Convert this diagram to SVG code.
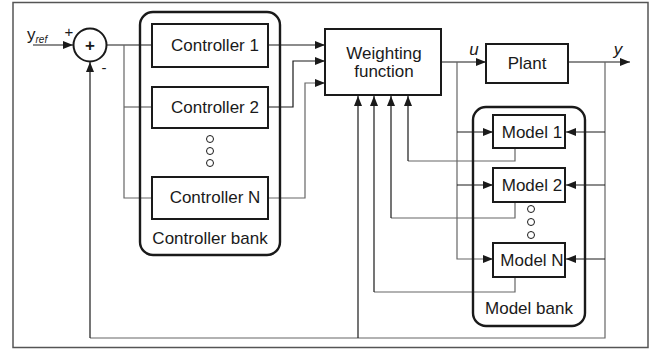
<svg xmlns="http://www.w3.org/2000/svg" width="654" height="350" viewBox="0 0 654 350">
<style>
.box{fill:#fff;stroke:#1a1a1a;stroke-width:2}
.bank{fill:none;stroke:#1a1a1a;stroke-width:2.4}
.ln{fill:none;stroke:#1a1a1a;stroke-width:1.2}
.gl{fill:none;stroke:#666;stroke-width:1.2}
.t{font-family:"Liberation Sans",Arial,sans-serif;font-size:17px;fill:#1a1a1a;text-anchor:middle}
.dot{fill:#fff;stroke:#1a1a1a;stroke-width:1}
</style>
<defs>
<marker id="ar" viewBox="0 0 10 8" refX="10" refY="4" markerWidth="10" markerHeight="8" markerUnits="userSpaceOnUse" orient="auto">
<path d="M0,0 L10,4 L0,8 z" fill="#1a1a1a"/>
</marker>
</defs>
<rect x="13" y="2.5" width="635" height="345" fill="#fff" stroke="#555" stroke-width="1.5"/>

<g id="connectors">
<line class="ln" x1="33" y1="45" x2="73" y2="45" marker-end="url(#ar)"/>
<line class="ln" x1="106" y1="45" x2="152" y2="45"/>
<polyline class="gl" points="124,45 124,198 152,198"/>
<line class="gl" x1="124" y1="107" x2="152" y2="107"/>
<line class="ln" x1="268" y1="45" x2="325" y2="45" marker-end="url(#ar)"/>
<polyline class="ln" points="268,107 293,107 293,61 325,61" marker-end="url(#ar)"/>
<polyline class="gl" points="268,198 305,198 305,83 325,83" marker-end="url(#ar)"/>
<line class="ln" x1="441" y1="62" x2="486" y2="62" marker-end="url(#ar)"/>
<line class="ln" x1="568" y1="62" x2="630" y2="62" marker-end="url(#ar)"/>
<polyline class="gl" points="457,62 457,259 493,259" marker-end="url(#ar)"/>
<line class="ln" x1="457" y1="132" x2="493" y2="132" marker-end="url(#ar)"/>
<line class="ln" x1="457" y1="185" x2="493" y2="185" marker-end="url(#ar)"/>
<polyline class="gl" points="605,62 605,338 90,338"/>
<line class="ln" x1="90" y1="338" x2="90" y2="62" marker-end="url(#ar)"/>
<line class="ln" x1="358" y1="338" x2="358" y2="96" marker-end="url(#ar)"/>
<line class="ln" x1="605" y1="132" x2="566" y2="132" marker-end="url(#ar)"/>
<line class="ln" x1="605" y1="185" x2="566" y2="185" marker-end="url(#ar)"/>
<line class="ln" x1="605" y1="259" x2="566" y2="259" marker-end="url(#ar)"/>
<polyline class="gl" points="515,148 515,161 408,161"/>
<line class="ln" x1="408" y1="161" x2="408" y2="96" marker-end="url(#ar)"/>
<polyline class="gl" points="515,202 515,218 391,218"/>
<line class="ln" x1="391" y1="218" x2="391" y2="96" marker-end="url(#ar)"/>
<polyline class="gl" points="515,277 515,292 374,292"/>
<line class="ln" x1="374" y1="292" x2="374" y2="96" marker-end="url(#ar)"/>
</g>

<g id="sum">
<circle cx="90" cy="45" r="16.5" fill="#fff" stroke="#1a1a1a" stroke-width="2"/>
<text x="90" y="51" class="t" style="font-weight:bold;font-size:17px">+</text>
<text x="69" y="37" class="t" style="font-size:15px">+</text>
<text x="104" y="73" class="t" style="font-size:15px">-</text>
<text x="27" y="40" style="font-family:'Liberation Sans',Arial,sans-serif;font-size:17px;fill:#1a1a1a">y<tspan dy="3" font-size="10" font-style="italic">ref</tspan></text>
</g>

<g id="controller-bank">
<rect class="bank" x="140" y="12" width="140" height="243" rx="13"/>
<text x="210" y="244" class="t">Controller bank</text>
</g>
<g id="controller-1"><rect class="box" x="152" y="24" width="116" height="43"/><text x="215" y="51" class="t">Controller 1</text></g>
<g id="controller-2"><rect class="box" x="152" y="87" width="116" height="41"/><text x="215" y="113" class="t">Controller 2</text></g>
<g id="controller-dots"><circle class="dot" cx="210" cy="139" r="3.5"/><circle class="dot" cx="210" cy="151" r="3.5"/><circle class="dot" cx="210" cy="163" r="3.5"/></g>
<g id="controller-n"><rect class="box" x="152" y="177" width="116" height="42"/><text x="215" y="203" class="t">Controller N</text></g>

<g id="weighting"><rect class="box" x="325" y="29" width="116" height="66"/><text x="384" y="59" class="t">Weighting</text><text x="384" y="77" class="t">function</text></g>
<g id="plant"><rect class="box" x="486" y="44" width="82" height="39"/><text x="527" y="69" class="t">Plant</text></g>
<text x="474" y="55" class="t" style="font-style:italic">u</text>
<text x="618" y="55" class="t" style="font-style:italic">y</text>

<g id="model-bank">
<rect class="bank" x="473" y="107" width="112" height="219" rx="13"/>
<text x="529" y="314" class="t">Model bank</text>
</g>
<g id="model-1"><rect class="box" x="493" y="115" width="72" height="33"/><text x="532" y="138" class="t">Model 1</text></g>
<g id="model-2"><rect class="box" x="493" y="168" width="72" height="34"/><text x="532" y="191" class="t">Model 2</text></g>
<g id="model-dots"><circle class="dot" cx="531" cy="209" r="3.5"/><circle class="dot" cx="531" cy="222" r="3.5"/><circle class="dot" cx="531" cy="235" r="3.5"/></g>
<g id="model-n"><rect class="box" x="493" y="243" width="72" height="34"/><text x="532" y="266" class="t">Model N</text></g>
</svg>
